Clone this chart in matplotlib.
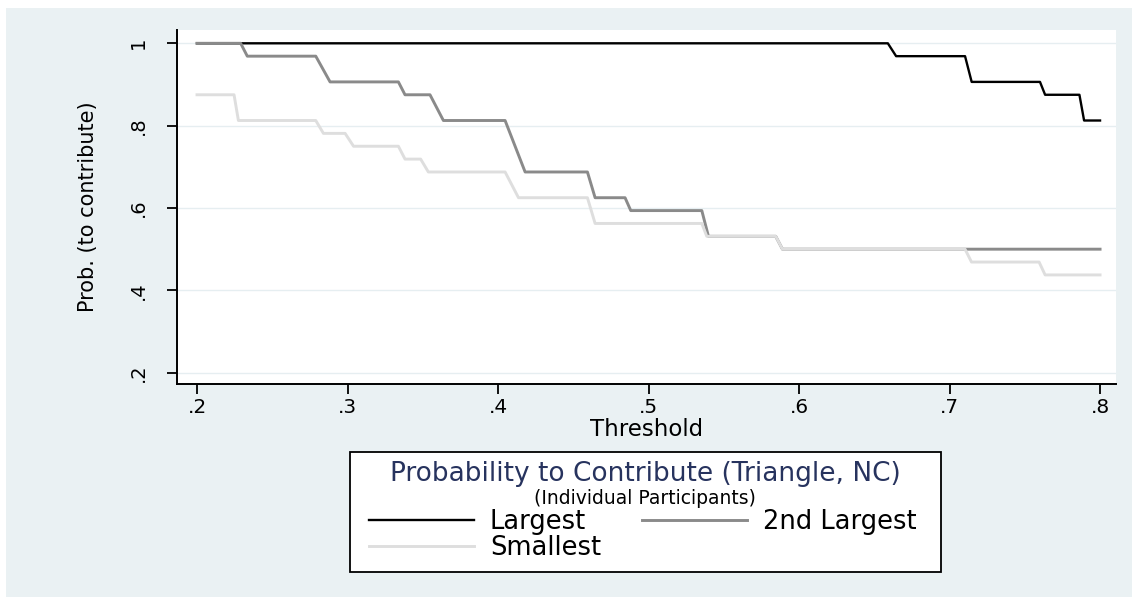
import matplotlib
matplotlib.use('Agg')
import matplotlib.pyplot as plt
from matplotlib.patches import Rectangle

# step corners (threshold, probability)
largest_x = [0.2, 0.659, 0.6645, 0.7103, 0.7147, 0.7601, 0.7635, 0.7863, 0.7894, 0.8]
largest_y = [1, 1, .96875, .96875, .90625, .90625, .875, .875, .8125, .8125]

second_x = [0.2, 0.229, 0.2334, 0.2789, 0.2884, 0.3338, 0.3382, 0.3548, 0.3637, 0.4047,
            0.418, 0.4594, 0.4645, 0.4844, 0.4882, 0.5354, 0.5398, 0.5845, 0.589, 0.8]
second_y = [1, 1, .96875, .96875, .90625, .90625, .875, .875, .8125, .8125,
            .6875, .6875, .625, .625, .59375, .59375, .53125, .53125, .5, .5]

smallest_x = [0.2, 0.2246, 0.2275, 0.2789, 0.284, 0.2984, 0.304, 0.3338, 0.3382, 0.3486,
              0.3537, 0.4047, 0.4136, 0.4594, 0.4645, 0.5354, 0.5387, 0.5845, 0.589, 0.7103,
              0.7146, 0.7595, 0.7635, 0.8]
smallest_y = [.875, .875, .8125, .8125, .78125, .78125, .75, .75, .71875, .71875,
              .6875, .6875, .625, .625, .5625, .5625, .53125, .53125, .5, .5,
              .46875, .46875, .4375, .4375]

xticks = [0.2, 0.3, 0.4, 0.5, 0.6, 0.7, 0.8]
xtick_labels = ['.2', '.3', '.4', '.5', '.6', '.7', '.8']
yticks = [0.2, 0.4, 0.6, 0.8, 1.0]
ytick_labels = ['.2', '.4', '.6', '.8', '1']

BG = '#EAF1F3'
GRID = '#E6EEF1'
NAVY = '#27335E'

plt.rcParams['font.family'] = ['DejaVu Sans']

W, H = 1138, 598
fig = plt.figure(figsize=(W / 100, H / 100), dpi=100)
fig.patch.set_facecolor('white')
fig.add_artist(Rectangle((6 / W, 1 - 597 / H), (1132 - 6) / W, (597 - 8) / H,
                         transform=fig.transFigure, facecolor=BG, edgecolor='none', zorder=-5))

ax = fig.add_axes([177 / W, 1 - 384 / H, (1116 - 177) / W, (384 - 30) / H])
ax.set_facecolor('white')

l1, = ax.plot(largest_x, largest_y, color='black', lw=1.7, label='Largest', zorder=3)
l2, = ax.plot(second_x, second_y, color='#8A8A8A', lw=2.1, label='2nd Largest', zorder=4)
l3, = ax.plot(smallest_x, smallest_y, color='#DEDEDE', lw=2.1, label='Smallest', zorder=5)

ax.set_xlim(0.1867, 0.8106)
ax.set_ylim(0.1726, 1.0323)

for y in yticks:
    ax.axhline(y, color=GRID, lw=1.0, zorder=1)

ax.set_xticks(xticks)
ax.set_xticklabels(xtick_labels, fontsize=14.5)
ax.set_yticks(yticks)
ax.set_yticklabels(ytick_labels, fontsize=14, rotation=90, va='center')

ax.spines['top'].set_visible(False)
ax.spines['right'].set_visible(False)
for s in ('left', 'bottom'):
    ax.spines[s].set_linewidth(1.4)
ax.tick_params(axis='both', length=7, width=1.3, direction='out')
ax.tick_params(axis='x', pad=3)
ax.tick_params(axis='y', pad=14)

ax.set_xlabel('Threshold', fontsize=16.5, labelpad=1)
ax.set_ylabel('Prob. (to contribute)', fontsize=15, labelpad=22)

# legend box
fig.add_artist(Rectangle((350 / W, 1 - 572 / H), (941 - 350) / W, (572 - 452) / H,
                         transform=fig.transFigure, facecolor='white', edgecolor='black',
                         lw=1.3, zorder=2))
fig.text(645 / W, 1 - 474 / H, 'Probability to Contribute (Triangle, NC)',
         ha='center', va='center', fontsize=19, color=NAVY, zorder=3)
fig.text(645 / W, 1 - 498 / H, '(Individual Participants)',
         ha='center', va='center', fontsize=13.5, color='black', zorder=3)
leg = fig.legend([l1, l3, l2], ['Largest', 'Smallest', '2nd Largest'], ncol=2,
                 loc='upper left', bbox_to_anchor=(369 / W, 1 - 509 / H),
                 frameon=False, fontsize=18.5, handlelength=4.1, handletextpad=0.6,
                 columnspacing=1.6, labelspacing=0.0, borderpad=0, borderaxespad=0)
leg.set_zorder(4)

fig.savefig('out.png', dpi=100, facecolor=fig.get_facecolor())
